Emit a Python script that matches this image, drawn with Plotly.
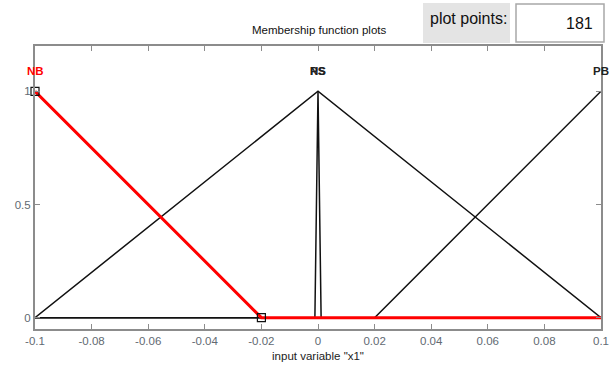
import plotly.graph_objects as go

# Membership functions of input variable "x1" (piecewise-linear vertices)
mf_names = ["NB", "NS", "PS", "PB"]
mf_x = [
    [-0.1, -0.02, 0.1],
    [-0.1, 0.0, 0.1],
    [-0.1, -0.0011, 0.0, 0.0011, 0.1],
    [-0.1, 0.02, 0.1],
]
mf_y = [
    [1, 0, 0],
    [0, 1, 0],
    [0, 0, 1, 0, 0],
    [0, 0, 1],
]
mf_peak = [-0.1, 0.0, 0.0, 0.1]
selected = "NB"

x_ticks = [-0.1, -0.08, -0.06, -0.04, -0.02, 0, 0.02, 0.04, 0.06, 0.08, 0.1]
x_tick_text = ["-0.1", "-0.08", "-0.06", "-0.04", "-0.02", "0", "0.02", "0.04", "0.06", "0.08", "0.1"]
y_ticks = [0, 0.5, 1]
y_tick_text = ["0", "0.5", "1"]
plot_points = 181

W, H = 616, 374
L, R, T, B = 35, 15, 46, 45
FONT = "Liberation Sans"


def px(xp):
    return (xp - L) / (W - L - R)


def py(yp):
    return (H - B - yp) / (H - T - B)


fig = go.Figure()

# unselected functions in black, selected one drawn last in red
order = [i for i, n in enumerate(mf_names) if n != selected] + [mf_names.index(selected)]
for i in order:
    is_sel = mf_names[i] == selected
    fig.add_trace(go.Scatter(
        x=mf_x[i], y=mf_y[i], mode="lines",
        line=dict(color="#ff0000" if is_sel else "#111111", width=3 if is_sel else 1.5),
        hoverinfo="skip", showlegend=False, cliponaxis=False,
    ))

# vertex handles of the selected function
sel = mf_names.index(selected)
fig.add_trace(go.Scatter(
    x=[mf_x[sel][0], mf_x[sel][1]], y=[mf_y[sel][0], mf_y[sel][1]], mode="markers",
    marker=dict(symbol="square-open", size=8, color="#111111", line=dict(width=1.2)),
    hoverinfo="skip", showlegend=False, cliponaxis=False,
))

# function names above their peaks
for i, name in enumerate(mf_names):
    fig.add_annotation(
        x=mf_peak[i], y=1.09, text="<b>" + name + "</b>", showarrow=False,
        font=dict(family=FONT, size=11.5, color="#ff0000" if name == selected else "#222222"),
        xanchor="center", yanchor="middle",
    )

axis_common = dict(
    showline=True, linecolor="#8c8c8c", linewidth=2, mirror="allticks",
    ticks="inside", ticklen=5, tickcolor="#8c8c8c", tickwidth=1,
    showgrid=False, zeroline=False, automargin=False,
    tickfont=dict(family=FONT, size=11.5, color="#626a72"),
)

fig.update_xaxes(range=[-0.1, 0.1], tickvals=x_ticks, ticktext=x_tick_text,
                 title=dict(text='input variable "x1"', font=dict(family=FONT, size=11.5, color="#222222"), standoff=6),
                 **axis_common)
fig.update_yaxes(range=[-0.05, 1.2], tickvals=y_ticks, ticktext=y_tick_text, **axis_common)

# header: title, "plot points" label and entry box
fig.add_annotation(xref="paper", yref="paper", x=px(319), y=py(30), text="Membership function plots",
                   showarrow=False, font=dict(family=FONT, size=11.5, color="#111111"),
                   xanchor="center", yanchor="middle")
fig.add_shape(type="rect", xref="paper", yref="paper", x0=px(423), x1=px(510), y0=py(43), y1=py(3),
              fillcolor="#e4e4e4", line=dict(width=0), layer="below")
fig.add_annotation(xref="paper", yref="paper", x=px(468), y=py(19), text="plot points:",
                   showarrow=False, font=dict(family=FONT, size=16, color="#111111"),
                   xanchor="center", yanchor="middle")
fig.add_shape(type="rect", xref="paper", yref="paper", x0=px(516), x1=px(604), y0=py(42), y1=py(4),
              fillcolor="#ffffff", line=dict(width=1.5, color="#a8a8a8"))
fig.add_annotation(xref="paper", yref="paper", x=px(595), y=py(23), text=str(plot_points),
                   showarrow=False, font=dict(family=FONT, size=16, color="#111111"),
                   xanchor="right", yanchor="middle")

fig.update_layout(
    width=W, height=H, margin=dict(l=L, r=R, t=T, b=B),
    paper_bgcolor="#ffffff", plot_bgcolor="#ffffff",
)

fig.write_html("out.html")
